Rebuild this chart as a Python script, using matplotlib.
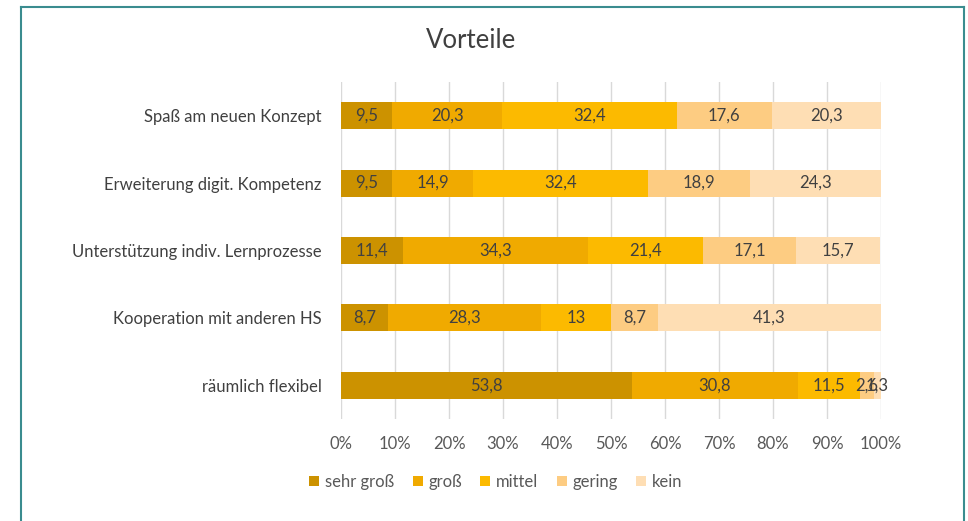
import matplotlib.pyplot as plt
import numpy as np
from matplotlib.lines import Line2D

plt.rcParams['font.family'] = ['Lato', 'DejaVu Sans']

categories = ['Spaß am neuen Konzept', 'Erweiterung digit. Kompetenz',
              'Unterstützung indiv. Lernprozesse', 'Kooperation mit anderen HS',
              'räumlich flexibel']
levels = ['sehr groß', 'groß', 'mittel', 'gering', 'kein']
sehr_gross = [9.5, 9.5, 11.4, 8.7, 53.8]
gross = [20.3, 14.9, 34.3, 28.3, 30.8]
mittel = [32.4, 32.4, 21.4, 13, 11.5]
gering = [17.6, 18.9, 17.1, 8.7, 2.6]
kein = [20.3, 24.3, 15.7, 41.3, 1.3]
xticks = [0, 10, 20, 30, 40, 50, 60, 70, 80, 90, 100]

colors = ['#CC9200', '#F0AA00', '#FCBA00', '#FDCC82', '#FEDEB4']
series = [sehr_gross, gross, mittel, gering, kein]

fig = plt.figure(figsize=(9.68, 5.21), dpi=100)
ax = fig.add_axes([0.3523, 0.1958, 0.9101 - 0.3523, 0.8426 - 0.1958])

y = np.arange(len(categories))
left = np.zeros(len(categories))
for name, vals, col in zip(levels, series, colors):
    vals = np.array(vals, dtype=float)
    ax.barh(y, vals, left=left, height=0.4, color=col, label=name, zorder=2)
    for yi, l, v in zip(y, left, vals):
        txt = f'{v:g}'.replace('.', ',')
        ax.text(l + v / 2, yi, txt, ha='center', va='center',
                fontsize=12, color='#404040', zorder=3)
    left += vals

ax.set_ylim(len(categories) - 0.5, -0.5)
ax.set_xlim(0, 100)
ax.set_yticks(y)
ax.set_yticklabels(categories, fontsize=12, color='#404040')
ax.set_xticks(xticks)
ax.set_xticklabels([f'{t}%' for t in xticks], fontsize=12, color='#595959')
ax.tick_params(axis='both', length=0)
ax.tick_params(axis='y', pad=14)
ax.tick_params(axis='x', pad=12)
ax.grid(axis='x', color='#D9D9D9', linewidth=1, zorder=0)
for s in ax.spines.values():
    s.set_visible(False)

fig.text(0.487, 0.923, 'Vorteile', ha='center', va='center', fontsize=18.5, color='#404040')

ax.legend(loc='center', bbox_to_anchor=(496 / 968, 1 - 482 / 521),
          bbox_transform=fig.transFigure, ncol=5, frameon=False,
          fontsize=12, labelcolor='#595959', handlelength=0.6,
          handleheight=0.6, handletextpad=0.35, columnspacing=1.1)

# teal frame around the chart (bottom edge is cut off in the reference)
frame_col = '#3A8C8F'
fig.add_artist(Line2D([21 / 968, 21 / 968], [0, 1 - 7 / 521], color=frame_col, lw=1.5, transform=fig.transFigure))
fig.add_artist(Line2D([21 / 968, 964 / 968], [1 - 7 / 521, 1 - 7 / 521], color=frame_col, lw=1.5, transform=fig.transFigure))
fig.add_artist(Line2D([964 / 968, 964 / 968], [0, 1 - 7 / 521], color=frame_col, lw=1.5, transform=fig.transFigure))

fig.savefig('out.png', dpi=100)
